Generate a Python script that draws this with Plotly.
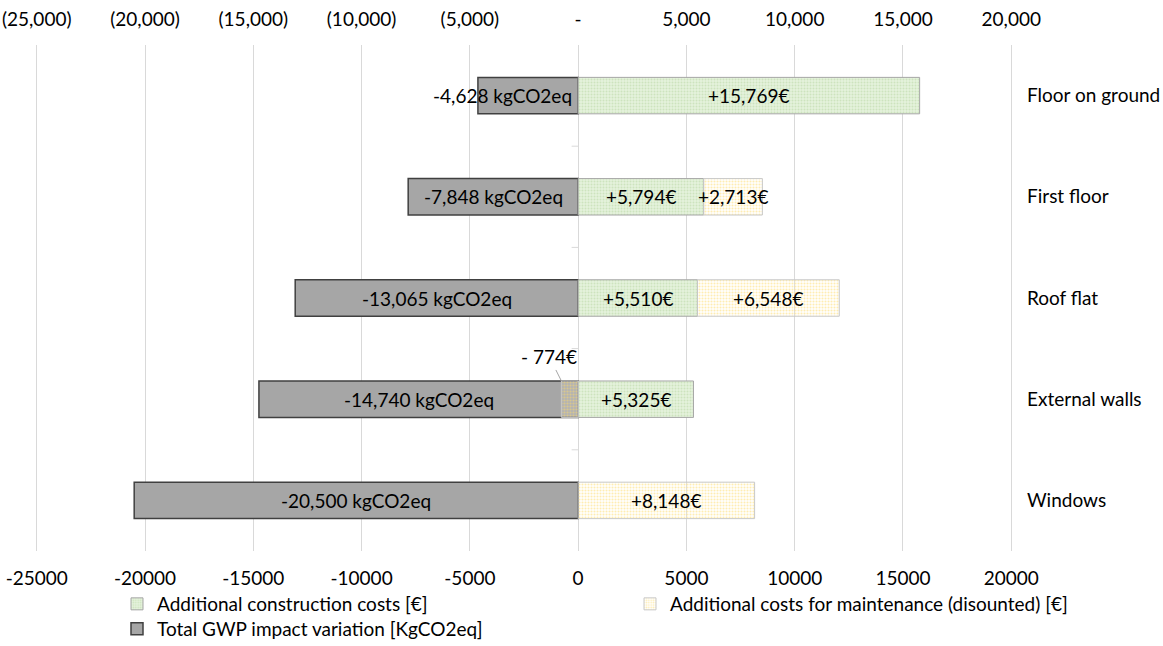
import plotly.graph_objects as go

# Building elements (top to bottom)
categories = ["Floor on ground", "First floor", "Roof flat", "External walls", "Windows"]

# Total GWP impact variation [kgCO2eq]
gwp_variation = [-4628, -7848, -13065, -14740, -20500]
# Additional construction costs [€]
construction_costs = [15769, 5794, 5510, 5325, 0]
# Additional costs for maintenance (discounted) [€]
maintenance_costs = [0, 2713, 6548, -774, 8148]

# Axis ticks
tick_values = [-25000, -20000, -15000, -10000, -5000, 0, 5000, 10000, 15000, 20000]
bottom_tick_text = ["-25000", "-20000", "-15000", "-10000", "-5000", "0", "5000", "10000", "15000", "20000"]
top_tick_text = ["(25,000)", "(20,000)", "(15,000)", "(10,000)", "(5,000)", "-", "5,000", "10,000", "15,000", "20,000"]

FONT = "Lato"
FS = 19
BAR_W = 0.36
GRID = "#D9D9D9"
# a hair of padding so the outermost gridlines are drawn
X_RANGE = [-25080, 20080]


def nz(vals):
    return [v if v != 0 else None for v in vals]


fig = go.Figure()

fig.add_trace(go.Bar(
    y=categories, x=gwp_variation, orientation="h", width=BAR_W,
    name="Total GWP impact variation [KgCO2eq]",
    marker=dict(color="#A6A6A6", line=dict(color="#404040", width=1.5)),
    xaxis="x", yaxis="y", legend="legend3", showlegend=True,
    hoverinfo="skip",
))
fig.add_trace(go.Bar(
    y=categories, x=nz(construction_costs), orientation="h", width=BAR_W,
    name="Additional construction costs [€]",
    marker=dict(color="#E2F0D9", line=dict(color="#A6A6A6", width=1),
                pattern=dict(shape=".", fgcolor="#B5D6A0", bgcolor="#E4F1DC", size=3, solidity=0.35)),
    xaxis="x2", yaxis="y", legend="legend", showlegend=True,
    hoverinfo="skip",
))
fig.add_trace(go.Bar(
    y=categories, x=nz(maintenance_costs), orientation="h", width=BAR_W,
    name="Additional costs for maintenance (disounted) [€]",
    marker=dict(color="rgba(255,255,255,0.15)", line=dict(color="#C8C8C8", width=1),
                pattern=dict(shape=".", fgcolor="#FFD966", bgcolor="rgba(255,255,255,0.15)",
                             size=3, solidity=0.4, fillmode="overlay")),
    xaxis="x2", yaxis="y", legend="legend2", showlegend=True,
    hoverinfo="skip",
))

annotations = []
label_font = dict(family=FONT, size=FS, color="#000000")

# GWP labels
for i, v in enumerate(gwp_variation):
    txt = f"{v:,} kgCO2eq"
    if abs(v) < 6000:
        annotations.append(dict(x=0, y=i, xref="x", yref="y", text=txt, showarrow=False,
                                xanchor="right", xshift=-4, font=label_font))
    else:
        annotations.append(dict(x=v / 2, y=i, xref="x", yref="y", text=txt, showarrow=False,
                                font=label_font))

# cost labels, centred on each stacked segment
for i, (c, m) in enumerate(zip(construction_costs, maintenance_costs)):
    if c:
        annotations.append(dict(x=c / 2, y=i, xref="x2", yref="y", text=f"+{c:,}€",
                                showarrow=False, font=label_font))
    if m > 0:
        start = c
        annotations.append(dict(x=start + m / 2, y=i, xref="x2", yref="y", text=f"+{m:,}€",
                                showarrow=False, font=label_font))
    elif m < 0:
        annotations.append(dict(x=m, y=i - BAR_W / 2, xref="x2", yref="y", text=f"- {abs(m):,}€",
                                showarrow=True, arrowhead=0, arrowwidth=1, arrowcolor="#A6A6A6",
                                ax=-12, ay=-24, font=label_font))

# small tick marks at category boundaries along the zero axis
shapes = []
for i in range(len(categories) - 1):
    shapes.append(dict(type="line", xref="x", yref="y", x0=-300, x1=0, y0=i + 0.5, y1=i + 0.5,
                       line=dict(color=GRID, width=1)))

axis_common = dict(range=X_RANGE, tickvals=tick_values, showline=False, automargin=False,
                   ticks="", tickfont=dict(family=FONT, size=FS, color="#000000"))

legend_common = dict(orientation="v", xanchor="left", yanchor="middle", yref="container",
                     xref="container", font=dict(family=FONT, size=FS),
                     bgcolor="rgba(0,0,0,0)", visible=True)

fig.update_layout(
    width=1163, height=646,
    margin=dict(l=35, r=150, t=45, b=95, autoexpand=False),
    paper_bgcolor="white", plot_bgcolor="white",
    barmode="relative",
    showlegend=True,
    font=dict(family=FONT, size=FS, color="#000000"),
    xaxis=dict(**axis_common, ticktext=bottom_tick_text, side="bottom", ticklabelstandoff=14,
               showgrid=True, gridcolor=GRID, gridwidth=1,
               zeroline=True, zerolinecolor=GRID, zerolinewidth=1),
    xaxis2=dict(**axis_common, ticktext=top_tick_text, side="top", overlaying="x",
                ticklabelstandoff=14, showgrid=False, zeroline=False),
    yaxis=dict(categoryorder="array", categoryarray=categories, autorange="reversed",
               side="right", showgrid=False, zeroline=False, showline=False, ticks="",
               automargin=False, ticklabelstandoff=13,
               tickfont=dict(family=FONT, size=FS, color="#000000")),
    legend=dict(**legend_common, x=117 / 1163, y=1 - 604 / 646),
    legend2=dict(**legend_common, x=630 / 1163, y=1 - 604 / 646),
    legend3=dict(**legend_common, x=117 / 1163, y=1 - 629 / 646),
    annotations=annotations,
    shapes=shapes,
)

fig.write_html("out.html")
